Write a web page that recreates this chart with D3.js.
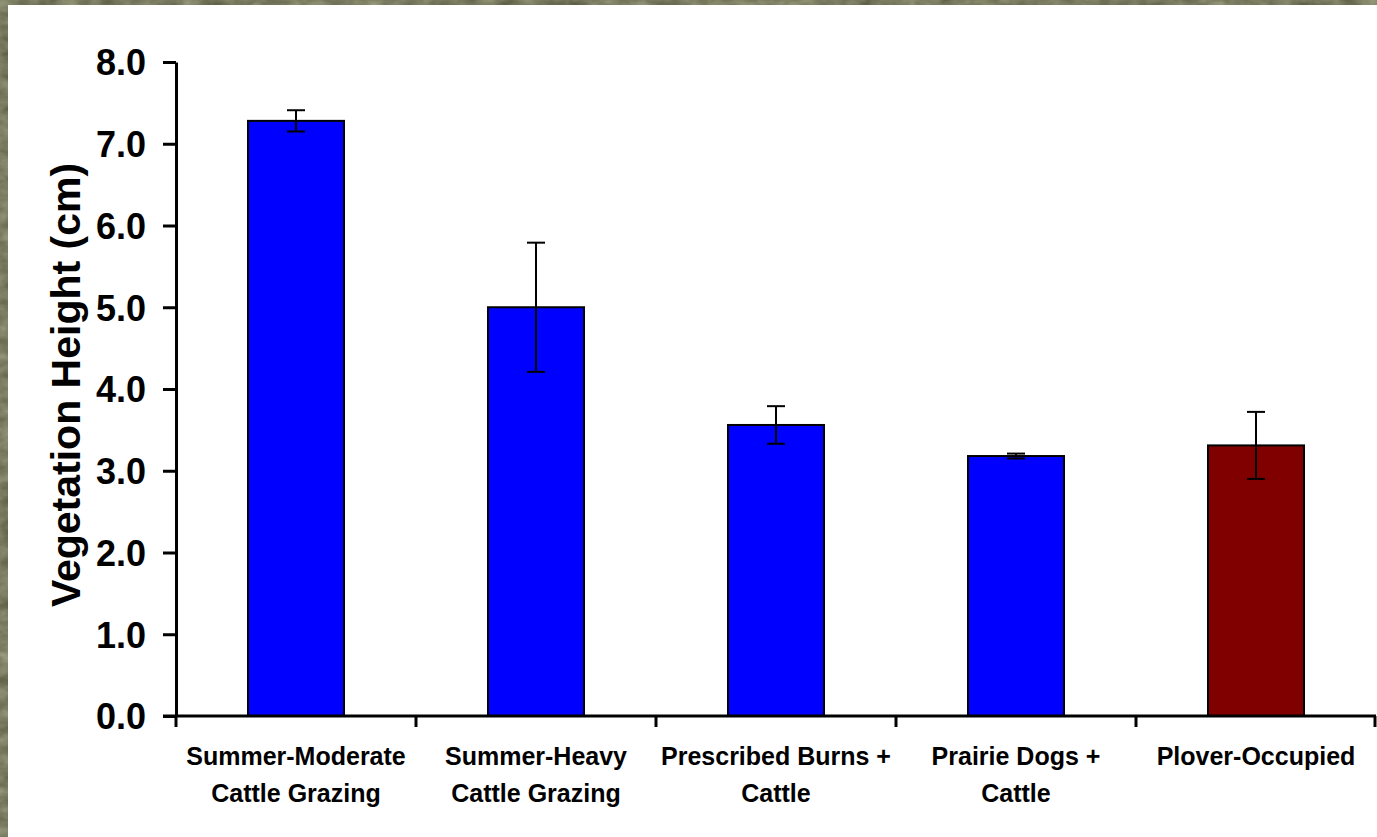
<!DOCTYPE html>
<html>
<head>
<meta charset="utf-8">
<script src="https://cdn.jsdelivr.net/npm/d3@7"></script>
<style>
  html, body { margin: 0; padding: 0; background: #ffffff; overflow: hidden; }
  svg { display: block; }
  text { font-family: "Liberation Sans", Arial, Helvetica, sans-serif; font-weight: bold; fill: #000; }
</style>
</head>
<body>
<svg id="chart" width="1377" height="837"></svg>
<script>
// Mean vegetation height per management treatment, with error half-widths
const categories = [
  ["Summer-Moderate", "Cattle Grazing"],
  ["Summer-Heavy", "Cattle Grazing"],
  ["Prescribed Burns +", "Cattle"],
  ["Prairie Dogs +", "Cattle"],
  ["Plover-Occupied"]
];
const heights = [7.28, 5.00, 3.56, 3.18, 3.31];
const errors  = [0.13, 0.79, 0.23, 0.03, 0.41];
const barColors = ["#0000ff", "#0000ff", "#0000ff", "#0000ff", "#800000"];
const yTicks = [0, 1, 2, 3, 4, 5, 6, 7, 8];
const yTitle = "Vegetation Height (cm)";

const W = 1377, H = 837;
const margin = { left: 176, right: 1, top: 62, bottom: 121 };
const svg = d3.select("#chart");

// Grassy slide backdrop: visible only as thin bands along the top and left edges
const defs = svg.append("defs");
const f = defs.append("filter").attr("id", "grain")
  .attr("color-interpolation-filters", "sRGB")
  .attr("filterUnits", "userSpaceOnUse")
  .attr("x", 0).attr("y", 0).attr("width", W).attr("height", H);
f.append("feTurbulence").attr("type", "fractalNoise")
  .attr("baseFrequency", "0.05 0.08").attr("numOctaves", 3).attr("seed", 4).attr("result", "noise");
f.append("feColorMatrix").attr("in", "noise").attr("type", "matrix")
  .attr("values", "0.32 0 0 0 0.32  0.32 0 0 0 0.33  0.3 0 0 0 0.23  0 0 0 0 1")
  .attr("result", "tint");
f.append("feComposite").attr("in", "tint").attr("in2", "SourceGraphic").attr("operator", "in");
const bands = svg.append("g").attr("filter", "url(#grain)");
bands.append("rect").attr("x", 0).attr("y", 0).attr("width", W).attr("height", 5).attr("fill", "#7a7a60");
bands.append("rect").attr("x", 0).attr("y", 0).attr("width", 8).attr("height", H).attr("fill", "#7a7a60");

const x = d3.scaleBand()
  .domain(d3.range(categories.length))
  .range([margin.left, W - margin.right])
  .paddingInner(0.6).paddingOuter(0.3);
const xOuter = d3.scaleBand()
  .domain(d3.range(categories.length))
  .range([margin.left, W - margin.right]);
const y = d3.scaleLinear().domain([0, 8]).range([H - margin.bottom, margin.top]);

const g = svg.append("g");

// Bars
g.selectAll("rect.bar").data(heights).join("rect")
  .attr("class", "bar")
  .attr("x", (d, i) => x(i))
  .attr("width", x.bandwidth())
  .attr("y", d => y(d))
  .attr("height", d => y(0) - y(d))
  .attr("fill", (d, i) => barColors[i])
  .attr("stroke", "#000").attr("stroke-width", 2);

// Error bars
const capHalf = 9;
const eb = g.selectAll("g.err").data(heights).join("g").attr("class", "err")
  .attr("stroke", "#000").attr("stroke-width", 2);
eb.append("line")
  .attr("x1", (d, i) => x(i) + x.bandwidth() / 2).attr("x2", (d, i) => x(i) + x.bandwidth() / 2)
  .attr("y1", (d, i) => y(d + errors[i])).attr("y2", (d, i) => y(d - errors[i]));
eb.append("line")
  .attr("x1", (d, i) => x(i) + x.bandwidth() / 2 - capHalf).attr("x2", (d, i) => x(i) + x.bandwidth() / 2 + capHalf)
  .attr("y1", (d, i) => y(d + errors[i])).attr("y2", (d, i) => y(d + errors[i]));
eb.append("line")
  .attr("x1", (d, i) => x(i) + x.bandwidth() / 2 - capHalf).attr("x2", (d, i) => x(i) + x.bandwidth() / 2 + capHalf)
  .attr("y1", (d, i) => y(d - errors[i])).attr("y2", (d, i) => y(d - errors[i]));

// Y axis
const yAxis = d3.axisLeft(y).tickValues(yTicks).tickFormat(d3.format(".1f"))
  .tickSizeInner(13).tickSizeOuter(0).tickPadding(17);
const ya = g.append("g").attr("transform", `translate(${margin.left},0)`).call(yAxis);
ya.select(".domain").attr("stroke", "#000").attr("stroke-width", 3);
ya.selectAll(".tick line").attr("stroke", "#000").attr("stroke-width", 3);
ya.selectAll(".tick text").style("font-size", "36px").style("font-family", null)
  .attr("dy", "0.36em");

// X axis: line with ticks at category boundaries
const xa = g.append("g");
xa.append("line")
  .attr("x1", margin.left - 13).attr("x2", W - margin.right)
  .attr("y1", y(0)).attr("y2", y(0))
  .attr("stroke", "#000").attr("stroke-width", 3);
const bounds = d3.range(categories.length + 1).map(i =>
  i < categories.length ? xOuter(i) : xOuter(i - 1) + xOuter.bandwidth());
xa.selectAll("line.xt").data(bounds).join("line").attr("class", "xt")
  .attr("x1", d => Math.min(d, W - 2)).attr("x2", d => Math.min(d, W - 2))
  .attr("y1", y(0)).attr("y2", y(0) + 11)
  .attr("stroke", "#000").attr("stroke-width", 3);

// Category labels
const labels = xa.selectAll("text.cat").data(categories).join("text").attr("class", "cat")
  .attr("text-anchor", "middle")
  .style("font-size", "25px")
  .attr("transform", (d, i) => `translate(${x(i) + x.bandwidth() / 2},765)`);
labels.selectAll("tspan").data(d => d).join("tspan")
  .attr("x", 0).attr("y", (d, j) => j * 37)
  .text(d => d);

// Y axis title
svg.append("text")
  .attr("transform", `translate(80,385) rotate(-90)`)
  .attr("text-anchor", "middle")
  .style("font-size", "41px")
  .text(yTitle);
</script>
</body>
</html>
